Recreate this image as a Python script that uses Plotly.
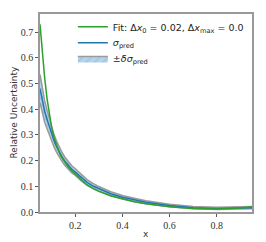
import plotly.graph_objects as go

x = [0.05, 0.06, 0.07, 0.08, 0.09, 0.10, 0.11, 0.12, 0.13, 0.14, 0.155, 0.17, 0.185, 0.20, 0.225, 0.25, 0.275, 0.30, 0.35, 0.40, 0.45, 0.50, 0.60, 0.70, 0.80, 0.90, 0.95]
fit = [0.73, 0.61, 0.52, 0.44, 0.375, 0.325, 0.29, 0.26, 0.235, 0.215, 0.193, 0.175, 0.16, 0.148, 0.125, 0.105, 0.091, 0.08, 0.063, 0.05, 0.04, 0.032, 0.02, 0.014, 0.012, 0.016, 0.02]
sigma_pred = [0.48, 0.43, 0.39, 0.36, 0.33, 0.30, 0.276, 0.255, 0.236, 0.22, 0.198, 0.18, 0.166, 0.155, 0.133, 0.115, 0.101, 0.09, 0.071, 0.057, 0.047, 0.038, 0.025, 0.017, 0.014, 0.015, 0.017]
delta_sigma = [0.055, 0.048, 0.042, 0.036, 0.031, 0.027, 0.024, 0.022, 0.02, 0.018, 0.016, 0.015, 0.014, 0.013, 0.012, 0.011, 0.01, 0.009, 0.008, 0.007, 0.0065, 0.006, 0.005, 0.004, 0.004, 0.004, 0.004]

lower = [s - d for s, d in zip(sigma_pred, delta_sigma)]
upper = [s + d for s, d in zip(sigma_pred, delta_sigma)]

serif = "Liberation Serif"
sans = "DejaVu Sans"

fig = go.Figure()
fig.add_trace(go.Scatter(x=x, y=lower, mode="lines", line=dict(color="#9a9a9a", width=1.5),
                         showlegend=False, hoverinfo="skip"))
fig.add_trace(go.Scatter(x=x, y=upper, mode="lines", line=dict(color="#9a9a9a", width=1.5),
                         fill="tonexty", fillcolor="rgba(120,170,215,0.55)",
                         fillpattern=dict(shape="/", fgcolor="#6a8fb0", bgcolor="rgba(160,200,230,0.8)", size=6, solidity=0.15),
                         name="±<i>δσ</i><sub>pred</sub>", legend="legend3"))
fig.add_trace(go.Scatter(x=x, y=sigma_pred, mode="lines", line=dict(color="#1f77b4", width=1.5),
                         name="<i>σ</i><sub>pred</sub>", legend="legend2"))
fig.add_trace(go.Scatter(x=x, y=fit, mode="lines", line=dict(color="#2ca02c", width=1.5),
                         name="Fit: Δ<i>x</i><sub>0</sub> = 0.02, Δ<i>x</i><sub>max</sub> = 0.0", legend="legend"))

axis_common = dict(showline=True, linecolor="#999999", linewidth=1.5, mirror=True, showgrid=False, zeroline=False,
                   ticks="outside", ticklen=3, tickcolor="#555555", automargin=False,
                   tickfont=dict(family=serif, size=10, color="#333333"))

leg_common = dict(x=0.155, xanchor="left", yanchor="middle", bgcolor="rgba(0,0,0,0)",
                  font=dict(family=sans, size=9.5, color="#222222"), itemwidth=30)

fig.update_layout(
    width=266, height=242,
    margin=dict(l=40, r=14, t=12, b=30),
    paper_bgcolor="white", plot_bgcolor="white",
    xaxis=dict(range=[0.05, 0.95], tickvals=[0.2, 0.4, 0.6, 0.8], ticktext=["0.2", "0.4", "0.6", "0.8"], **axis_common),
    yaxis=dict(range=[0, 0.77], tickvals=[0, 0.1, 0.2, 0.3, 0.4, 0.5, 0.6, 0.7],
               ticktext=["0.0", "0.1", "0.2", "0.3", "0.4", "0.5", "0.6", "0.7"], **axis_common),
    legend=dict(y=0.935, **leg_common),
    legend2=dict(y=0.855, **leg_common),
    legend3=dict(y=0.775, **leg_common),
    showlegend=True,
    annotations=[
        dict(text="x", xref="paper", yref="paper", x=0.5, y=-0.11, xanchor="center", yanchor="middle",
             showarrow=False, font=dict(family=sans, size=9, color="#333333")),
        dict(text="Relative Uncertainty", xref="paper", yref="paper", x=-0.125, y=0.5, xanchor="center", yanchor="middle",
             textangle=-90, showarrow=False, font=dict(family=sans, size=9, color="#333333")),
    ],
)

fig.write_html("out.html", config={"displayModeBar": False},
               post_script="document.body.style.margin='0';document.body.style.padding='0';")
